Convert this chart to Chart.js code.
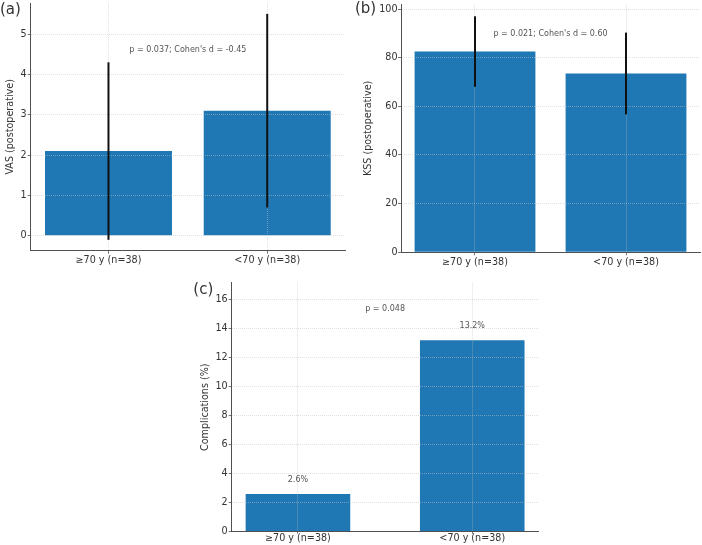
<!DOCTYPE html>
<html>
<head>
<meta charset="utf-8">
<script src="https://cdn.jsdelivr.net/npm/chart.js@4"></script>
<style>
html, body { margin: 0; padding: 0; background: #fff; }
#wrap { position: relative; width: 702px; height: 545px; overflow: hidden; background: #fff; }
#wrap canvas { position: absolute; left: 0; top: 0; }
</style>
</head>
<body>
<div id="wrap">
  <canvas id="ca" width="702" height="545"></canvas>
  <canvas id="cb" width="702" height="545"></canvas>
  <canvas id="cc" width="702" height="545"></canvas>
</div>
<script>
// ---- data ----
const groups = ['≥70 y (n=38)', '<70 y (n=38)'];
const vasMean = [2.1, 3.1];
const vasSD = [2.2, 2.4];
const kssMean = [82.5, 73.5];
const kssSD = [14.5, 16.8];
const compRate = [2.6, 13.2];
const compLabels = ['2.6%', '13.2%'];
const vasTicks = [0, 1, 2, 3, 4, 5];
const kssTicks = [0, 20, 40, 60, 80, 100];
const compTicks = [0, 2, 4, 6, 8, 10, 12, 14, 16];
const vasNote = "p = 0.037; Cohen's d = -0.45";
const kssNote = "p = 0.021; Cohen's d = 0.60";
const compNote = 'p = 0.048';

// ---- style ----
const FONT = "'DejaVu Sans', 'Liberation Sans', sans-serif";
Chart.defaults.font.family = FONT;
const BLUE = '#1f77b4';
const GRID = 'rgba(195,195,195,0.5)';
const SPINE = '#505050';
const TXT = '#333333';
const NOTE = '#555555';

function makeChart(id, p) {
  const overlay = {
    id: 'overlay_' + id,
    afterDraw(chart) {
      const ctx = chart.ctx;
      const xs = chart.scales.x, ys = chart.scales.y;
      ctx.save();
      if (p.sd) {
        ctx.strokeStyle = '#111';
        ctx.lineWidth = 2;
        p.values.forEach((m, i) => {
          const x = xs.getPixelForValue(i);
          ctx.beginPath();
          ctx.moveTo(x, ys.getPixelForValue(m - p.sd[i]));
          ctx.lineTo(x, ys.getPixelForValue(m + p.sd[i]));
          ctx.stroke();
        });
      }
      ctx.fillStyle = NOTE;
      ctx.font = '8px ' + FONT;
      ctx.textAlign = 'center';
      ctx.textBaseline = 'middle';
      if (p.note) {
        ctx.fillText(p.note.text, xs.getPixelForValue(p.note.x), ys.getPixelForValue(p.note.y));
      }
      if (p.barLabels) {
        p.values.forEach((v, i) => {
          ctx.fillText(p.barLabels[i], xs.getPixelForValue(i), ys.getPixelForValue(v) - 14);
        });
      }
      ctx.fillStyle = TXT;
      ctx.font = '15px ' + FONT;
      ctx.textAlign = 'left';
      ctx.fillText(p.panel.text, p.panel.px, p.panel.py);
      ctx.restore();
    }
  };
  return new Chart(document.getElementById(id), {
    type: 'bar',
    data: {
      datasets: [{
        data: p.values.map((v, i) => ({ x: i, y: v })),
        backgroundColor: BLUE,
        borderWidth: 0,
        categoryPercentage: 1,
        barPercentage: p.barFrac
      }]
    },
    options: {
      responsive: false,
      animation: false,
      events: [],
      layout: { padding: p.pad },
      plugins: { legend: { display: false }, tooltip: { enabled: false } },
      scales: {
        x: {
          type: 'linear', min: p.xMin, max: p.xMax, offset: false, bounds: 'data',
          grid: { z: 1, offset: false, color: GRID, lineWidth: 1, tickLength: p.xTickLen, tickColor: SPINE, tickWidth: 0.8, tickBorderDash: [] },
          border: { display: true, color: SPINE, width: 1, dash: [1, 1], z: 2 },
          ticks: { z: 2, font: { size: 9.6 }, color: TXT, padding: p.xTickPad, maxRotation: 0, minRotation: 0, autoSkip: false,
                   callback: (v) => (groups[v] !== undefined ? groups[v] : '') },
          afterBuildTicks: (s) => { s.ticks = groups.map((g, i) => ({ value: i })); },
          afterFit: (s) => { s.height = p.xH; s.paddingLeft = 0; s.paddingRight = 0; }
        },
        y: {
          type: 'linear', min: p.yMin, max: p.yMax, bounds: 'data',
          grid: { z: 1, color: GRID, lineWidth: 1, tickLength: 3, tickColor: SPINE, tickWidth: 0.8, tickBorderDash: [] },
          border: { display: true, color: SPINE, width: 1, dash: [1, 1], z: 2 },
          ticks: { z: 2, font: { size: 9.6 }, color: TXT, padding: p.yTickPad },
          title: { display: true, text: p.yTitle, font: { size: 9.6 }, color: TXT, padding: { top: 0, bottom: 0 } },
          afterBuildTicks: (s) => { s.ticks = p.yTicks.map(v => ({ value: v })); },
          afterFit: (s) => { s.width = p.yW; s.paddingTop = 0; s.paddingBottom = 0; }
        }
      }
    },
    plugins: [overlay]
  });
}

// (a) VAS
makeChart('ca', {
  values: vasMean, sd: vasSD, barFrac: 0.8,
  xMin: -0.49, xMax: 1.49, yMin: -0.37, yMax: 5.77, yTicks: vasTicks,
  yTitle: 'VAS (postoperative)',
  pad: { left: 4.5, top: 3, right: 357, bottom: 274.3 },
  yW: 26.2, xH: 20, xTickLen: 3, xTickPad: 1, yTickPad: 1,
  note: { text: vasNote, x: 0.5, y: 4.6 },
  panel: { text: '(a)', px: 0, py: 9.7 }
});

// (b) KSS
makeChart('cb', {
  values: kssMean, sd: kssSD, barFrac: 0.8,
  xMin: -0.49, xMax: 1.49, yMin: 0, yMax: 101.85, yTicks: kssTicks,
  yTitle: 'KSS (postoperative)',
  pad: { left: 362.5, top: 4.5, right: 2, bottom: 272.7 },
  yW: 38.5, xH: 20, xTickLen: 3, xTickPad: 1, yTickPad: 0.5,
  note: { text: kssNote, x: 0.5, y: 89.6 },
  panel: { text: '(b)', px: 355, py: 9 }
});

// (c) Complications
makeChart('cc', {
  values: compRate, sd: null, barFrac: 0.6, barLabels: compLabels,
  xMin: -0.38, xMax: 1.38, yMin: 0, yMax: 17.16, yTicks: compTicks,
  yTitle: 'Complications (%)',
  pad: { left: 200, top: 282.7, right: 163.5, bottom: 0 },
  yW: 31.7, xH: 13.3, xTickLen: 2, xTickPad: -0.8, yTickPad: 1,
  note: { text: compNote, x: 0.5, y: 15.33 },
  panel: { text: '(c)', px: 193.3, py: 290.3 }
});
</script>
</body>
</html>
